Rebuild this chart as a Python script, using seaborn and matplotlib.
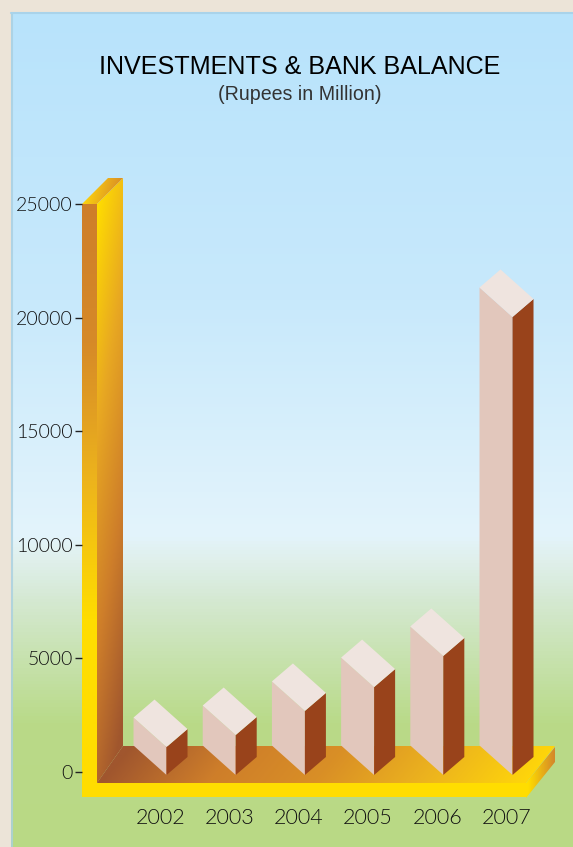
import numpy as np
import matplotlib
matplotlib.use("Agg")
import matplotlib.pyplot as plt
import seaborn as sns
from matplotlib.colors import LinearSegmentedColormap
from matplotlib.patches import Polygon
from matplotlib.transforms import Affine2D

# Chart data (Rupees in million)
years = ["2002", "2003", "2004", "2005", "2006", "2007"]
balances = [1230, 1760, 2820, 3870, 5240, 20160]
value_ticks = [0, 5000, 10000, 15000, 20000, 25000]

W, H = 573, 847
sns.set_theme(style="white")
plt.rcParams["font.family"] = ["Lato", "DejaVu Sans"]

fig = plt.figure(figsize=(W / 100, H / 100), dpi=100, facecolor="#ECE4D8")


def to_fig_rect(left, top, right, bottom):
    return [left / W, 1 - bottom / H, (right - left) / W, (bottom - top) / H]


# Pixel-space backdrop: sky-to-grass panel and the 3D chart frame
bg = fig.add_axes([0, 0, 1, 1], zorder=0)
bg.set_xlim(0, W)
bg.set_ylim(H, 0)
bg.axis("off")

ys = np.array([13, 300, 535, 560, 600, 660, 725, 847]) / H
sky = ["#B8E3FB", "#C8E9FB", "#E3F4FC", "#E0F0EC", "#D5E9D3", "#C7E2AE", "#B9DA88", "#B9D985"]
panel_map = LinearSegmentedColormap.from_list(
    "panel", [(0, sky[0])] + [((y - ys[0]) / (ys[-1] - ys[0]), c) for y, c in zip(ys[1:], sky[1:])]
)
panel_grad = np.linspace(0, 1, 834)[:, None]
bg.imshow(panel_grad, extent=(11, W, 847, 13), cmap=panel_map, aspect="auto", zorder=1)
bg.plot([12, 12], [847, 13], color="#A9CFE0", lw=1.5, alpha=0.8, zorder=2)
bg.plot([11, W], [13.5, 13.5], color="#A9D3EA", lw=1.5, zorder=2)


def gradient_face(points, direction, start, end, colors, zorder=3):
    """Fill a polygon with a linear gradient running along a pixel direction."""
    pts = np.array(points, float)
    x0, y0 = pts.min(axis=0)
    x1, y1 = pts.max(axis=0)
    xx, yy = np.meshgrid(np.arange(x0, x1 + 1), np.arange(y0, y1 + 1))
    d = np.array(direction, float)
    t = (xx * d[0] + yy * d[1] - start) / (end - start)
    cmap = LinearSegmentedColormap.from_list("face", colors)
    im = bg.imshow(np.clip(t, 0, 1), extent=(x0, x1, y1, y0), cmap=cmap, vmin=0, vmax=1,
                   aspect="auto", zorder=zorder, interpolation="bilinear")
    clip = Polygon(pts, closed=True, transform=bg.transData, fc="none", ec="none")
    bg.add_patch(clip)
    im.set_clip_path(clip)


# Back wall, its cap and the front post
gradient_face([(97, 204), (123, 178), (123, 746), (97, 783)], (0.0085, 0.0015), 1.1305, 2.1305,
              ["#FFDD00", "#E8A822", "#CE7E2A", "#A0562E"])
gradient_face([(82, 204), (97, 204), (123, 178), (108, 178)], (1, 0.3), 145, 178,
              ["#FAD010", "#D98B26"])
gradient_face([(82, 204), (97, 204), (97, 797), (82, 797)], (0, 1), 204, 620,
              ["#CE7E2A", "#D68A28", "#EDB41C", "#FFDD00"])
# Floor, front strip and right-hand end
gradient_face([(97, 783), (123, 746), (555, 746), (526, 783)], (1, 0.8), 726, 1156,
              ["#A0562E", "#CE7E2A", "#D98F26", "#ECB31E", "#FFD60A"])
bg.add_patch(Polygon([(82, 783), (526, 783), (526, 797), (82, 797)], fc="#FFDD00", ec="none", zorder=3))
gradient_face([(526, 783), (555, 747), (555, 762), (526, 798)], (1, 0), 528, 555,
              ["#FFDD00", "#D4872A"])

# Data axes: y scale places 0 and 25000 on the wall ticks
PX_PER_UNIT = (772 - 204) / 25000
CAT_SPACING = 69.2
ax = fig.add_axes(to_fig_rect(82, 204, W, 797), zorder=1)
ax.patch.set_alpha(0)

sns.barplot(x=years, y=balances, width=0.78, color="#E2C7BC", saturation=1, ax=ax)

ax.set_xlim((82 - 160.5) / CAT_SPACING, (W - 160.5) / CAT_SPACING)
ax.set_ylim(-(797 - 772) / PX_PER_UNIT, 25000)

# Each bar becomes an isometric block: the bar is the sheared left face
BASE = -3 / PX_PER_UNIT
LEFT_DX, LEFT_DY = 33 / CAT_SPACING, 29.5 / PX_PER_UNIT
RIGHT_DX, RIGHT_DY = 21 / CAT_SPACING, 18 / PX_PER_UNIT
for bar, value in zip(ax.patches, balances):
    xv = bar.get_x() + LEFT_DX
    top = BASE + value
    k = -LEFT_DY / LEFT_DX
    bar.set_width(LEFT_DX)
    bar.set_y(BASE)
    bar.set_height(value)
    bar.set_transform(Affine2D(np.array([[1, 0, 0], [k, 1, -k * xv], [0, 0, 1]])) + ax.transData)
    bar.set_zorder(4)
    bar.set_clip_on(False)
    bar.set_edgecolor("none")
    bar.set_linewidth(0)
    ax.add_patch(Polygon([(xv, BASE), (xv + RIGHT_DX, BASE + RIGHT_DY),
                          (xv + RIGHT_DX, top + RIGHT_DY), (xv, top)],
                         fc="#99431B", ec="none", zorder=4, clip_on=False))
    ax.add_patch(Polygon([(xv, top), (xv - LEFT_DX, top + LEFT_DY),
                          (xv - LEFT_DX + RIGHT_DX, top + LEFT_DY + RIGHT_DY),
                          (xv + RIGHT_DX, top + RIGHT_DY)],
                         fc="#EFE4DF", ec="none", zorder=4, clip_on=False))

sns.despine(ax=ax, left=True, bottom=True)
ax.set_xlabel("")
ax.set_ylabel("")
ax.set_yticks(value_ticks)
ax.set_yticklabels([str(v) for v in value_ticks])
ax.tick_params(axis="y", left=True, length=5, width=1, color="#222222", pad=1.5,
               labelsize=14, labelcolor="#111111")
ax.tick_params(axis="x", bottom=False, length=0, pad=8, labelsize=15.5, labelcolor="#111111")
for label in ax.get_xticklabels() + ax.get_yticklabels():
    label.set_fontweight(300)

fig.text(299.5 / W, 1 - 67.5 / H, "INVESTMENTS & BANK BALANCE", ha="center", va="center",
         fontsize=18.1, color="black", family="Liberation Sans")
fig.text(299.5 / W, 1 - 94.5 / H, "(Rupees in Million)", ha="center", va="center",
         fontsize=14.1, color="#333333", family="Liberation Sans")

fig.savefig("out.png", dpi=100, facecolor=fig.get_facecolor())
